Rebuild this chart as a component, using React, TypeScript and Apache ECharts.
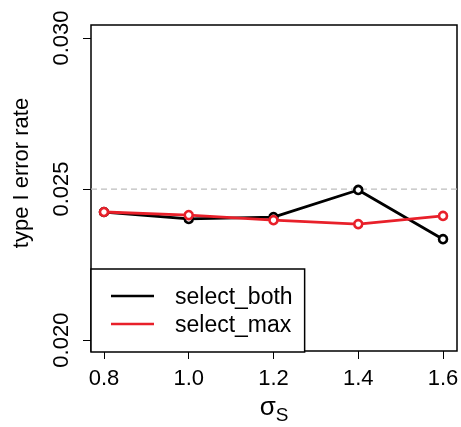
import React, { useEffect, useRef } from "react";
import * as echarts from "echarts";

const sigmaS = [0.8, 1.0, 1.2, 1.4, 1.6];
const selectBoth = [0.02424, 0.02401, 0.02407, 0.02497, 0.02334];
const selectMax = [0.02424, 0.02414, 0.02397, 0.02384, 0.02411];
const xTicks = [0.8, 1.0, 1.2, 1.4, 1.6];
const yTicks = [0.02, 0.025, 0.03];
const refLevel = 0.025;
const xRange = [0.7694, 1.633];
const yRange = [0.01964, 0.03043];

const FONT = "Liberation Sans, Arial, Helvetica, sans-serif";
const RED = "#e8202a";

export default function App() {
  const ref = useRef<HTMLDivElement>(null);
  useEffect(() => {
    const chart = echarts.init(ref.current!, null, { renderer: "svg" });
    const mk = (name: string, ys: number[], color: string) => ({
      name,
      type: "line",
      data: sigmaS.map((x, i) => [x, ys[i]]),
      symbol: "circle",
      symbolSize: 8,
      lineStyle: { color, width: 2.8 },
      itemStyle: { color: "#fff", borderColor: color, borderWidth: 2.6 },
    });
    chart.setOption({
      animation: false,
      textStyle: { fontFamily: FONT },
      grid: {
        left: 91,
        top: 25,
        width: 366,
        height: 326,
        outerBoundsMode: "none",
        containLabel: false,
        show: true,
        borderColor: "#000",
        borderWidth: 1.5,
        backgroundColor: "transparent",
      },
      xAxis: {
        type: "value",
        min: xRange[0],
        max: xRange[1],
        axisLine: { show: false },
        splitLine: { show: false },
        axisTick: { show: true, length: 8, lineStyle: { color: "#000", width: 1 }, customValues: xTicks },
        axisLabel: {
          customValues: xTicks,
          formatter: (v: number) => v.toFixed(1),
          color: "#000",
          fontSize: 22,
          margin: 15,
        },
        name: "{a|σ}{b|S}",
        nameLocation: "middle",
        nameGap: 45,
        nameTextStyle: {
          rich: {
            a: { fontSize: 26, lineHeight: 26, color: "#000", fontFamily: FONT, verticalAlign: "bottom", padding: [0, 0, 5, 0] },
            b: { fontSize: 19, lineHeight: 19, color: "#000", fontFamily: FONT, verticalAlign: "bottom" },
          },
        },
      },
      yAxis: {
        type: "value",
        min: yRange[0],
        max: yRange[1],
        axisLine: { show: false },
        splitLine: { show: false },
        axisTick: { show: true, length: 8, lineStyle: { color: "#000", width: 1 }, customValues: yTicks },
        axisLabel: {
          customValues: yTicks,
          formatter: (v: number) => v.toFixed(3),
          rotate: 90,
          color: "#000",
          fontSize: 22,
          margin: 20,
        },
        name: "type I error rate",
        nameLocation: "middle",
        nameGap: 60,
        nameTextStyle: { fontSize: 22, color: "#000", fontFamily: FONT, padding: [0, 0, 0, 30] },
      },
      legend: {
        orient: "vertical",
        left: 91,
        top: 269,
        data: [
          { name: "select_both", itemStyle: { color: "#000", borderWidth: 0 } },
          { name: "select_max", itemStyle: { color: RED, borderWidth: 0 } },
        ],
        icon: "rect",
        itemWidth: 43,
        itemHeight: 2.5,
        itemGap: 2,
        padding: [14, 12, 15, 20],
        borderColor: "#000",
        borderWidth: 1.5,
        borderRadius: 0,
        backgroundColor: "#fff",
        textStyle: { fontSize: 23, color: "#000", lineHeight: 26, padding: [0, 0, 0, 16], fontFamily: FONT },
      },
      series: [
        {
          name: "ref",
          type: "line",
          data: [[xRange[0], refLevel], [xRange[1], refLevel]],
          symbol: "none",
          silent: true,
          z: 1,
          lineStyle: { color: "#bdbdbd", type: [6, 4], width: 1.2 },
        },
        { ...mk("select_both", selectBoth, "#000"), z: 3 },
        { ...mk("select_max", selectMax, RED), z: 4 },
      ],
    });
    return () => chart.dispose();
  }, []);
  return <div ref={ref} style={{ position: "fixed", left: 0, top: 0, width: 461, height: 427 }} />;
}
